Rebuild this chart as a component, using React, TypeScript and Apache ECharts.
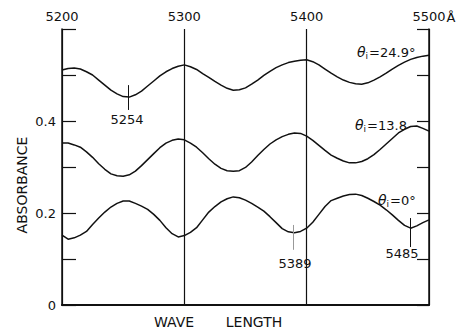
import { useEffect, useRef } from "react";
import * as echarts from "echarts";

const wavelengths = [
  5200, 5205, 5210, 5215, 5220, 5225, 5230, 5235, 5240, 5245, 5250, 5255, 5260, 5265, 5270, 5275,
  5280, 5285, 5290, 5295, 5300, 5305, 5310, 5315, 5320, 5325, 5330, 5335, 5340, 5345, 5350, 5355,
  5360, 5365, 5370, 5375, 5380, 5385, 5390, 5395, 5400, 5405, 5410, 5415, 5420, 5425, 5430, 5435,
  5440, 5445, 5450, 5455, 5460, 5465, 5470, 5475, 5480, 5485, 5490, 5495, 5500,
];

const absTheta249 = [
  0.511, 0.514, 0.515, 0.513, 0.507, 0.5, 0.489, 0.478, 0.467, 0.459, 0.453, 0.452, 0.457, 0.465, 0.476, 0.487,
  0.498, 0.507, 0.514, 0.519, 0.522, 0.518, 0.512, 0.503, 0.495, 0.486, 0.478, 0.471, 0.467, 0.468, 0.472, 0.48,
  0.489, 0.499, 0.508, 0.516, 0.522, 0.527, 0.53, 0.532, 0.533, 0.529, 0.522, 0.513, 0.504, 0.496, 0.489, 0.484,
  0.481, 0.48, 0.483, 0.489, 0.496, 0.504, 0.513, 0.521, 0.528, 0.534, 0.538, 0.541, 0.543,
];

const absTheta138 = [
  0.352, 0.352, 0.348, 0.343, 0.333, 0.321, 0.307, 0.295, 0.285, 0.281, 0.28, 0.283, 0.291, 0.303, 0.316, 0.329,
  0.342, 0.352, 0.358, 0.361, 0.359, 0.352, 0.343, 0.331, 0.318, 0.306, 0.297, 0.292, 0.291, 0.292, 0.299, 0.311,
  0.325, 0.338, 0.35, 0.359, 0.366, 0.371, 0.374, 0.373, 0.367, 0.358, 0.347, 0.336, 0.326, 0.319, 0.313, 0.309,
  0.309, 0.312, 0.318, 0.327, 0.338, 0.35, 0.362, 0.374, 0.382, 0.388, 0.389, 0.384, 0.378,
];

const absTheta0 = [
  0.152, 0.143, 0.146, 0.152, 0.16, 0.175, 0.189, 0.202, 0.213, 0.221, 0.226, 0.226, 0.221, 0.215, 0.208, 0.197,
  0.184, 0.168, 0.155, 0.148, 0.151, 0.158, 0.168, 0.185, 0.202, 0.214, 0.224, 0.231, 0.235, 0.233, 0.228, 0.221,
  0.213, 0.204, 0.192, 0.179, 0.166, 0.159, 0.157, 0.16, 0.167, 0.18, 0.197, 0.214, 0.227, 0.232, 0.237, 0.24,
  0.241, 0.238, 0.232, 0.225, 0.217, 0.207, 0.196, 0.184, 0.173, 0.167, 0.172, 0.179, 0.185,
];

const yLabelValues = ["0", "0.2", "0.4"];

const FONT = "DejaVu Sans";

function pairs(ys: number[]) {
  return wavelengths.map((w, i) => [w, ys[i]]);
}

function mark(wl: number, y1: number, y2: number, color: string) {
  return {
    symbol: "none",
    silent: true,
    label: { show: false },
    lineStyle: { color, width: 1, type: "solid" },
    data: [[{ coord: [wl, y1] }, { coord: [wl, y2] }]],
  };
}

function thetaLabel(x: number, y: number, value: string) {
  return {
    type: "text",
    x,
    y,
    style: {
      text: `{t|θ}{s|i}{v|${value}}`,
      verticalAlign: "middle",
      rich: {
        t: { fontFamily: FONT, fontSize: 14, fontStyle: "italic", fill: "#111" },
        s: { fontFamily: FONT, fontSize: 9, fill: "#111", padding: [7, 1, 0, 0] },
        v: { fontFamily: FONT, fontSize: 13, fill: "#111" },
      },
    },
  };
}

function plainText(x: number, y: number, text: string, size = 13, align = "center") {
  return {
    type: "text",
    x,
    y,
    style: { text, fontFamily: FONT, fontSize: size, fill: "#111", align, verticalAlign: "middle" },
  };
}

export default function App() {
  const ref = useRef<HTMLDivElement>(null);
  useEffect(() => {
    if (!ref.current) return;
    const chart = echarts.init(ref.current, undefined, { renderer: "svg" });
    const lineCommon = {
      type: "line",
      showSymbol: false,
      symbol: "none",
      smooth: false,
      lineStyle: { color: "#111", width: 1.5 },
      silent: true,
    };
    chart.setOption({
      animation: false,
      backgroundColor: "#fff",
      grid: { left: 62, right: 29, top: 29, bottom: 28 },
      xAxis: [
        {
          type: "value",
          position: "top",
          min: 5200,
          max: 5500,
          interval: 100,
          axisLine: { show: true, lineStyle: { color: "#111", width: 1.5 } },
          axisTick: { show: false },
          axisLabel: {
            color: "#111",
            fontFamily: FONT,
            fontSize: 13,
            margin: 6,
            formatter: (v: number) => String(v),
          },
          splitLine: { show: true, lineStyle: { color: "#111", width: 1.2 } },
        },
        {
          type: "value",
          position: "bottom",
          min: 5200,
          max: 5500,
          interval: 100,
          axisLine: { show: true, onZero: false, lineStyle: { color: "#111", width: 2 } },
          axisTick: { show: false },
          axisLabel: { show: false },
          splitLine: { show: false },
        },
      ],
      yAxis: [
        {
          type: "value",
          position: "left",
          min: 0,
          max: 0.6,
          interval: 0.1,
          axisLine: { show: true, onZero: false, lineStyle: { color: "#111", width: 1.5 } },
          axisTick: { show: true, inside: true, length: 14, lineStyle: { color: "#111", width: 1.2 } },
          axisLabel: {
            color: "#111",
            fontFamily: FONT,
            fontSize: 13,
            margin: 6,
            formatter: (v: number) => {
              const k = Math.round(v * 10);
              return k % 2 === 0 && k <= 4 ? yLabelValues[k / 2] : "";
            },
          },
          splitLine: { show: false },
        },
        {
          type: "value",
          position: "right",
          min: 0,
          max: 0.6,
          interval: 0.1,
          axisLine: { show: true, onZero: false, lineStyle: { color: "#111", width: 1.5 } },
          axisTick: { show: true, inside: true, length: 12, lineStyle: { color: "#111", width: 1.2 } },
          axisLabel: { show: false },
          splitLine: { show: false },
        },
      ],
      series: [
        { ...lineCommon, name: "θi=24.9°", data: pairs(absTheta249), markLine: mark(5254, 0.478, 0.424, "#111") },
        { ...lineCommon, name: "θi=13.8", data: pairs(absTheta138) },
        {
          ...lineCommon,
          name: "θi=0°",
          data: pairs(absTheta0),
          markLine: {
            symbol: "none",
            silent: true,
            label: { show: false },
            lineStyle: { color: "#111", width: 1, type: "solid" },
            data: [
              [{ coord: [5389, 0.174], lineStyle: { color: "#999" } }, { coord: [5389, 0.12] }],
              [{ coord: [5485, 0.189] }, { coord: [5485, 0.126] }],
            ],
          },
        },
      ],
      graphic: [
        plainText(451, 17, "Å", 13),
        thetaLabel(357, 52, "=24.9°"),
        thetaLabel(355, 125, "=13.8"),
        thetaLabel(378, 200, "=0°"),
        plainText(127, 119, "5254", 13),
        plainText(295, 263, "5389", 13),
        plainText(402, 253, "5485", 13),
        plainText(174, 322, "WAVE", 14),
        plainText(254, 322, "LENGTH", 14),
        {
          type: "text",
          x: 22,
          y: 185,
          rotation: Math.PI / 2,
          style: {
            text: "ABSORBANCE",
            fontFamily: FONT,
            fontSize: 14,
            fill: "#111",
            align: "center",
            verticalAlign: "middle",
          },
        },
      ],
    });
    return () => chart.dispose();
  }, []);
  return <div ref={ref} style={{ width: 458, height: 333, position: "absolute", left: 0, top: 0 }} />;
}
